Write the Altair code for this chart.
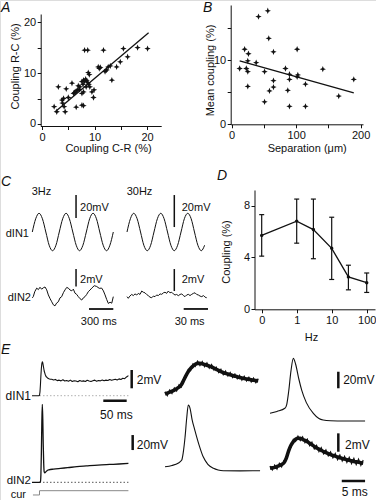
import altair as alt
import pandas as pd

W, H = 376, 500
FONT = "Liberation Sans"
INK = "#111111"

# ---------------- Panel A: coupling R-C vs C-R ----------------
a_cr = [2.3, 2.8, 3.1, 3.8, 4.1, 3.9, 4.2, 4.4, 4.6, 5.7, 5.0, 6.0, 6.2, 6.5, 6.8, 7.1, 6.5, 7.2,
        7.6, 7.8, 7.9, 8.1, 8.3, 8.5, 8.7, 8.9, 9.1, 8.4, 7.9, 7.6, 7.6, 7.9, 8.1, 8.7, 8.8, 9.0,
        9.5, 9.8, 9.9, 10.7, 10.9, 11.1, 11.7, 12.0, 12.3, 12.6, 13.0, 13.3, 14.2, 14.9, 15.5,
        16.3, 18.2, 20.1, 6.9]
a_rc = [3.4, 2.4, 7.3, 4.7, 5.0, 4.1, 3.4, 2.4, 6.9, 8.0, 5.2, 6.0, 6.2, 6.5, 6.7, 6.8, 3.3, 7.3,
        8.3, 7.8, 8.6, 8.4, 8.8, 8.5, 8.1, 7.8, 7.3, 7.3, 6.3, 6.0, 3.7, 3.6, 14.5, 14.5, 10.1, 9.7,
        6.3, 5.2, 6.7, 11.2, 10.9, 11.1, 14.5, 10.3, 10.6, 11.2, 11.4, 8.6, 11.2, 12.2, 14.8,
        13.2, 15.0, 14.8, 7.5]
a_fit_cr = [2.5, 20.3]
a_fit_rc = [2.4, 17.9]

# ---------------- Panel B: mean coupling vs separation ----------------
b_sep = [12.4, 20.1, 22.7, 25.0, 26.0, 25.0, 25.0, 38.0, 41.6, 51.0, 51.0, 56.0, 57.5, 58.6, 64.8,
         64.8, 64.8, 83.4, 87.0, 89.6, 89.6, 89.6, 101.5, 101.5, 102.6, 114.4, 114.4, 141.3,
         166.0, 189.3]
b_cpl = [8.7, 11.7, 8.7, 8.2, 11.0, 9.9, 5.9, 9.6, 16.8, 8.2, 3.5, 17.7, 13.4, 5.2, 11.3, 6.8,
         5.8, 8.7, 5.3, 7.8, 7.0, 2.8, 11.7, 7.4, 7.7, 6.25, 2.8, 8.6, 4.4, 7.0]
b_fit_sep = [12.4, 189.3]
b_fit_cpl = [9.9, 4.9]

# ---------------- Panel C: sine injection traces ----------------
c3_t = [0, 42, 83, 125, 167, 208, 250, 292, 333, 375, 417, 458, 500, 542, 583, 625, 667, 708,
        750, 792, 833, 875, 917, 958, 1000]
c3_in1 = [0, 11.5, 16.3, 11.5, 0, -11.5, -16.3, -11.5, 0, 11.5, 16.3, 11.5, 0, -11.5, -16.3,
          -11.5, 0, 11.5, 16.3, 11.5, 0, -11.5, -16.3, -11.5, 0]
c3_in2_t = [0, 12, 30, 54, 75, 95, 115, 136, 157, 178, 198, 220, 240, 260, 280, 300, 321, 342,
            363, 384, 404, 425, 445, 466, 487, 507, 527, 548, 568, 590, 610, 630, 651, 672, 692,
            713, 734, 765, 795, 826, 857, 878, 898, 919, 939, 960, 981, 1000]
c3_in2 = [-0.1, 0.04, 0.6, 1.02, 0.85, 1.12, 0.9, 1.06, 1.15, 0.82, 0.24, -0.2, -0.55, -0.9,
          -1.02, -0.7, -0.55, -0.1, 0.04, 0.5, 0.82, 1.1, 1.02, 0.8, 0.71, 0.9, 0.44, 0.3, 0.04,
          -0.2, -0.35, -0.1, 0.04, 0.3, 0.62, 0.8, 1.02, 1.3, 1.21, 1.0, 1.02, 0.7, 0.24, -0.3,
          -0.74, -0.6, -0.71, 0.04]
c30_t = [0, 4.2, 8.3, 12.5, 16.7, 20.8, 25, 29.2, 33.3, 37.5, 41.7, 45.8, 50, 54.2, 58.3, 62.5,
         66.7, 70.8, 75, 79.2, 83.3, 87.5, 91.7, 95.8]
c30_in1 = [0, 8.3, 11.7, 8.3, 0, -8.3, -11.7, -8.3, 0, 8.3, 11.7, 8.3, 0, -8.3, -11.7, -8.3, 0,
           8.3, 11.7, 8.3, 0, -8.3, -11.7, -8.3]
c30_in2_t = [0, 1.6, 3.5, 5.8, 7.8, 9.9, 12, 14, 16, 18.2, 20.2, 22.2, 24.2, 26.3, 28.4, 30.5,
             32.5, 34.6, 36.6, 38.7, 40.8, 42.9, 45, 46.9, 49, 51, 53, 55.2, 57.2, 59.3, 61.3,
             63.4, 65.5, 67.6, 69.6, 71.6, 73.6, 75.7, 77.8, 79.9, 82, 84, 86, 88.1, 90.2, 92.3,
             94.4, 96.4, 98.4]
c30_in2 = [-0.15, -0.3, -0.1, 0.05, -0.05, 0.1, 0.0, 0.15, 0.05, 0.36, 0.25, 0.2, 0.05, -0.06,
           -0.2, -0.25, -0.1, -0.15, 0.0, -0.05, 0.1, 0.06, 0.2, 0.25, 0.15, 0.36, 0.2, 0.25, 0.1,
           0.0, 0.05, -0.06, 0.05, 0.1, -0.05, -0.15, 0.0, 0.06, -0.05, 0.06, 0.15, 0.2, 0.05,
           0.0, -0.1, -0.15, -0.05, -0.2, -0.25]

# ---------------- Panel D: coupling vs frequency ----------------
d_hz = [0, 1, 3, 10, 30, 100]
d_mean = [5.7, 6.8, 6.15, 4.7, 2.5, 2.05]
d_lo = [4.1, 5.1, 3.9, 2.3, 1.5, 1.3]
d_hi = [7.3, 8.5, 8.5, 7.1, 3.4, 2.8]

# ---------------- Panel E: spike coupling ----------------
e_in1_t = [-16, -1, 0, 1, 2, 3, 4, 5, 6, 7, 8, 9, 10, 12, 14, 16, 18, 20, 23] + list(range(26, 187, 4)) + [190]
e_in1 = [0, 0, 0.05, 0.4, 1.2, 2.2, 3.0, 3.5, 3.7, 3.6, 3.3, 3.0, 2.7, 2.35, 2.1, 2.0, 1.9, 1.85, 1.8,
         1.80, 1.72, 1.78, 1.65, 1.70, 1.62, 1.74, 1.60, 1.66, 1.58, 1.70, 1.55, 1.64, 1.60, 1.52,
         1.66, 1.58, 1.62, 1.55, 1.68, 1.60, 1.56, 1.64, 1.70, 1.58, 1.66, 1.62, 1.72, 1.64, 1.70,
         1.66, 1.76, 1.68, 1.74, 1.80, 1.72, 1.84, 1.78, 1.90, 1.86, 2.05, 2.2]
e_in2_t = [-16, 0, 2, 3, 4, 5, 6, 7, 8, 9, 10, 11.5, 13, 16, 20, 30, 45, 60, 80, 100, 125, 150, 170, 190]
e_in2 = [0, 0, 1, 10, 40, 80, 104, 85, 50, 25, 14, 12.5, 13.5, 15.5, 16.6, 17.6, 18.6, 19.5, 20.8,
         21.8, 23, 23.8, 24.4, 25.2]
e_cur_t = [-14, 0, 0, 190]
e_cur = [-16.9, -16.9, -11.2, -11.2]

# expanded traces (5 ms scale); thick noisy sweeps = mean curve + one noisy sweep
em_t = [i * 0.5 for i in range(41)]
em_in1_mean = [0, 0.1, 0.2, 0.3, 0.42, 0.58, 0.75, 1.0, 1.5, 2.0, 2.45, 2.8, 3.05, 3.25, 3.35, 3.35,
               3.3, 3.22, 3.15, 3.05, 2.95, 2.82, 2.7, 2.58, 2.45, 2.35, 2.25, 2.18, 2.1, 2.02, 1.95,
               1.88, 1.8, 1.75, 1.7, 1.65, 1.6, 1.55, 1.5, 1.46, 1.42]
em_in1_sweep = [0.25, -0.2, 0.45, 0.05, 0.68, 0.32, 1.0, 0.75, 1.75, 1.8, 2.7, 2.55, 3.3, 3.0, 3.6,
                3.1, 3.55, 2.98, 3.42, 2.8, 3.22, 2.6, 2.95, 2.35, 2.72, 2.1, 2.52, 1.95, 2.35, 1.8,
                2.2, 1.65, 2.05, 1.5, 1.95, 1.42, 1.85, 1.3, 1.75, 1.22, 1.68]
em_in2_t = [0, 1.5, 2.8, 3.6, 3.9, 4.3, 4.65, 5.0, 5.4, 5.8, 6.4, 7.3, 8.2, 9.2, 10.4, 11.4, 12.5, 16.1, 20.4]
em_in2 = [20.8, 22.5, 25.5, 29.7, 39, 60, 85, 103, 98, 84, 69.7, 50, 34, 24, 18.7, 16.5, 15.5, 15.3, 15.5]

er_in1_t = [0, 1.5, 3.2, 3.6, 4.0, 4.5, 5.0, 5.5, 6.2, 6.8, 7.8, 9.3, 10.5, 11.4, 13, 16, 20.4]
er_in1 = [9.2, 11.5, 15.2, 20, 35, 60, 75, 68, 50, 37, 22, 9.2, 3, 1.2, 0.3, 0, 0]
er_t = [i * 0.5 for i in range(41)]
er_in2_mean = [0, 0.05, 0.1, 0.2, 0.3, 0.42, 0.6, 1.1, 1.9, 2.5, 2.9, 3.15, 3.26, 3.25, 3.15, 3.03,
               2.9, 2.72, 2.55, 2.38, 2.2, 2.08, 1.95, 1.82, 1.7, 1.6, 1.5, 1.4, 1.32, 1.23, 1.15,
               1.08, 1.0, 0.94, 0.88, 0.82, 0.75, 0.7, 0.65, 0.6, 0.55]
er_in2_sweep = [0.25, -0.2, 0.35, -0.1, 0.55, 0.15, 0.85, 0.85, 2.15, 2.25, 3.15, 2.9, 3.5, 3.0, 3.42,
                2.78, 3.18, 2.45, 2.85, 2.1, 2.5, 1.8, 2.25, 1.55, 2.0, 1.35, 1.8, 1.12, 1.62, 0.92,
                1.45, 0.78, 1.32, 0.62, 1.2, 0.5, 1.1, 0.38, 1.0, 0.3, 0.9]

STAR = "M0,-1L0.28,-0.28L1,0L0.28,0.28L0,1L-0.28,0.28L-1,0L-0.28,-0.28Z"


def S(domain, rng, typ="linear"):
    return alt.Scale(type=typ, domain=domain, range=rng, nice=False, zero=False)


def axis(orient, offset, values, title, tx, ty, label_expr=None, fmt=None):
    kw = dict(orient=orient, offset=offset, values=values, title=title, titleX=tx, titleY=ty,
              titleAlign="center", titleBaseline="middle",
              titleAngle=0 if orient == "bottom" else 270, grid=False,
              domainColor=INK, tickColor=INK, labelColor=INK, titleColor=INK,
              labelFont=FONT, titleFont=FONT, labelFontSize=11, titleFontSize=11,
              titleFontWeight="normal", tickSize=3.5, labelPadding=1.5, labelFlush=False,
              labelOverlap=False, domainWidth=1, tickWidth=1)
    if label_expr:
        kw["labelExpr"] = label_expr
    if fmt:
        kw["format"] = fmt
    return alt.Axis(**kw)


def tr(t, v):
    return pd.DataFrame({"t": t, "v": v, "i": list(range(len(t)))})


def line(t, v, xs, ys, color=INK, sw=1.0, dash=None, interp="linear", join="round"):
    kw = dict(color=color, strokeWidth=sw, interpolate=interp, strokeJoin=join)
    if dash:
        kw["strokeDash"] = dash
    return alt.Chart(tr(t, v)).mark_line(**kw).encode(
        x=alt.X("t:Q", scale=xs, axis=None),
        y=alt.Y("v:Q", scale=ys, axis=None),
        order="i:Q")


def bar(t0, t1, v0, v1, xs, ys, sw=1.5):
    df = pd.DataFrame({"t": [t0], "t2": [t1], "v": [v0], "v2": [v1]})
    return alt.Chart(df).mark_rule(color=INK, strokeWidth=sw).encode(
        x=alt.X("t:Q", scale=xs, axis=None), x2="t2:Q",
        y=alt.Y("v:Q", scale=ys, axis=None), y2="v2:Q")


def label(t, v, text, xs, ys, align="left", size=11):
    df = pd.DataFrame({"t": [t], "v": [v], "s": [text]})
    return alt.Chart(df).mark_text(align=align, baseline="middle", fontSize=size, font=FONT,
                                   color=INK).encode(
        x=alt.X("t:Q", scale=xs, axis=None), y=alt.Y("v:Q", scale=ys, axis=None), text="s:N")


def letter(s, x, y):
    return alt.Chart(pd.DataFrame({"s": [s]})).mark_text(
        align="left", baseline="alphabetic", fontSize=14, fontStyle="italic", font=FONT,
        color=INK).encode(x=alt.value(x), y=alt.value(y), text="s:N")


layers = []

# ---- A ----
xA = S([-0.3, 22.7], [40.5, 161.2])
yA = S([-0.4, 21.6], [126, 14])
dfA = pd.DataFrame({"cr": a_cr, "rc": a_rc})
layers.append(alt.Chart(dfA).mark_point(shape=STAR, filled=True, size=40, color=INK, opacity=1).encode(
    x=alt.X("cr:Q", scale=xA, axis=axis("bottom", 126 - H, [0, 5, 10, 15, 20], "Coupling C-R (%)", 108, 22.5,
                                         "datum.value % 10 == 0 ? datum.label : ''")),
    y=alt.Y("rc:Q", scale=yA, axis=axis("left", -40.7, [0, 5, 10, 15, 20], "Coupling R-C (%)", 15 - 40.7, 66,
                                         "datum.value % 10 == 0 ? datum.label : ''"))))
layers.append(alt.Chart(pd.DataFrame({"cr": a_fit_cr, "rc": a_fit_rc})).mark_line(color=INK, strokeWidth=1.3).encode(
    x=alt.X("cr:Q", scale=xA, axis=None), y=alt.Y("rc:Q", scale=yA, axis=None)))

# ---- B ----
xB = S([-1.5, 203.6], [230.7, 363])
yB = S([0, 18.6], [124.3, 5])
dfB = pd.DataFrame({"sep": b_sep, "cpl": b_cpl})
layers.append(alt.Chart(dfB).mark_point(shape=STAR, filled=True, size=40, color=INK, opacity=1).encode(
    x=alt.X("sep:Q", scale=xB, axis=axis("bottom", 124.3 - H, [0, 50, 100, 150, 200], "Separation (μm)", 306.7, 24.5,
                                          "datum.value % 100 == 0 ? datum.label : ''")),
    y=alt.Y("cpl:Q", scale=yB, axis=axis("left", -230.7, [0, 5, 10, 15], "Mean coupling (%)", 210 - 230.7, 70,
                                          "datum.value % 10 == 0 ? datum.label : ''"))))
layers.append(alt.Chart(pd.DataFrame({"sep": b_fit_sep, "cpl": b_fit_cpl})).mark_line(color=INK, strokeWidth=1.3).encode(
    x=alt.X("sep:Q", scale=xB, axis=None), y=alt.Y("cpl:Q", scale=yB, axis=None)))

# ---- C ----
x3 = S([0, 1000], [32.3, 113.3])
x30 = S([0, 100], [127, 208])
y3a = S([-20, 40], [255, 186])
y30a = S([-20, 30], [264, 184])
y3b = S([-4, 4], [331.8, 262.2])
y30b = S([-4, 4], [339, 251])
layers += [
    line(c3_t, c3_in1, x3, y3a, sw=1.0, interp="monotone"),
    line(c30_t, c30_in1, x30, y30a, sw=1.0, interp="monotone"),
    line(c3_in2_t, c3_in2, x3, y3b, sw=1.0),
    line(c30_in2_t, c30_in2, x30, y30b, sw=1.0),
    bar(540, 540, 12.2, 32.2, x3, y3a),
    bar(58.4, 58.4, 3.1, 23.1, x30, y30a),
    bar(540, 540, 1.2, 3.22, x3, y3b),
    bar(58.4, 58.4, 0.36, 2.36, x30, y30b),
    bar(700, 1000, -1.38, -1.38, x3, y3b, sw=1.8),
    bar(70, 100, -1.27, -1.27, x30, y30b, sw=1.8),
    label(-7.4, 34.8, "3Hz", x3, y3a),
    label(-0.4, 25, "30Hz", x30, y30a),
    label(589, 21.1, "20mV", x3, y3a),
    label(67.6, 14.8, "20mV", x30, y30a),
    label(-41, -2, "dIN1", x3, y3a, align="right"),
    label(589, 1.95, "2mV", x3, y3b),
    label(67.6, 1.36, "2mV", x30, y30b),
    label(-16, -0.15, "dIN2", x3, y3b, align="right"),
    label(821, -2.84, "300 ms", x3, y3b, align="center"),
    label(77.3, -2.43, "30 ms", x30, y30b, align="center"),
]

# ---- D ----
xD = S([0.0623, 172.6], [254.5, 375], "log")
yD = S([0, 9.2], [309.3, 190])
dfD = pd.DataFrame({"hz": d_hz, "mean": d_mean, "lo": d_lo, "hi": d_hi})
baseD = alt.Chart(dfD).transform_calculate(xp="datum.hz == 0 ? 0.1 : datum.hz")
xDn = alt.X("xp:Q", scale=xD, axis=None)
layers += [
    baseD.mark_line(color=INK, strokeWidth=1.3).encode(
        x=alt.X("xp:Q", scale=xD, axis=axis("bottom", 309.3 - H, [0.1, 1, 10, 100], "Hz", 311, 27.7,
                                             "datum.value < 0.5 ? '0' : format(datum.value, 'd')")),
        y=alt.Y("mean:Q", scale=yD, axis=axis("left", -254.5, [0, 4, 8], "Coupling (%)", 226.7 - 254.5, 251.5))),
    baseD.mark_rule(color=INK, strokeWidth=1.2).encode(
        x=xDn, y=alt.Y("lo:Q", scale=yD, axis=None), y2="hi:Q"),
    baseD.mark_tick(orient="horizontal", color=INK, size=5, thickness=1.2, opacity=1).encode(
        x=xDn, y=alt.Y("hi:Q", scale=yD, axis=None)),
    baseD.mark_tick(orient="horizontal", color=INK, size=5, thickness=1.2, opacity=1).encode(
        x=xDn, y=alt.Y("lo:Q", scale=yD, axis=None)),
    baseD.mark_point(filled=True, size=12, color=INK, opacity=1).encode(
        x=xDn, y=alt.Y("mean:Q", scale=yD, axis=None)),
]

# ---- E ----
xEL = S([-40, 210], [20.78, 137.78])
yEL1 = S([-5, 5], [441.45, 349.95])
yEL2 = S([-30, 120], [504.8, 392.3])
xEM = S([0, 25], [165, 281.5])
yEM1 = S([-2, 5], [412.3, 348.25])
yEM2 = S([0, 120], [482.3, 392.3])
xER = S([0, 25], [270, 386.5])
yER1 = S([-10, 90], [429.35, 345.85])
yER2 = S([-4, 5], [505.1, 422.3])
layers += [
    line([0, 190], [0, 0], xEL, yEL1, color="#b0b0b0", sw=1, dash=[1.5, 2]),
    line([0, 190], [0, 0], xEL, yEL2, color="#555555", sw=1, dash=[1.5, 2]),
    line(e_cur_t, e_cur, xEL, yEL2, color="#888888", sw=1),
    line(e_in1_t, e_in1, xEL, yEL1, sw=1.1),
    line(e_in2_t, e_in2, xEL, yEL2, sw=1.3, interp="monotone"),
    bar(197, 197, 0.81, 2.81, xEL, yEL1, sw=2.5),
    bar(136.3, 186.3, -0.55, -0.55, xEL, yEL1, sw=2.5),
    bar(199.1, 199.1, 43, 63, xEL, yEL2, sw=2.5),
    label(-18.2, 0, "dIN1", xEL, yEL1, align="right", size=12),
    label(207.7, 1.72, "2mV", xEL, yEL1, size=12),
    label(164.1, -2.11, "50 ms", xEL, yEL1, align="center", size=12),
    label(-18.2, 1.2, "dIN2", xEL, yEL2, align="right", size=11.5),
    label(207.7, 49.7, "20mV", xEL, yEL2, size=12),
    label(-28.8, -16.5, "cur", xEL, yEL2, align="right", size=11),
    line(em_t, em_in1_mean, xEM, yEM1, sw=3.6, interp="monotone"),
    line(em_t, em_in1_sweep, xEM, yEM1, sw=1.1, join="miter"),
    line(em_in2_t, em_in2, xEM, yEM2, sw=1.1, interp="monotone"),
    line(er_in1_t, er_in1, xER, yER1, sw=1.1, interp="monotone"),
    line(er_t, er_in2_mean, xER, yER2, sw=3.6, interp="monotone"),
    line(er_t, er_in2_sweep, xER, yER2, sw=1.1, join="miter"),
    bar(14.66, 14.66, 39.2, 59.0, xER, yER1, sw=2.5),
    bar(14.66, 14.66, 1.8, 3.8, xER, yER2, sw=2.5),
    bar(15.4, 20.4, -1.38, -1.38, xER, yER2, sw=2.5),
    label(15.7, 49.1, "20mV", xER, yER1, size=12),
    label(16.1, 2.53, "2mV", xER, yER2, size=12),
    label(18.2, -2.54, "5 ms", xER, yER2, align="center", size=12),
]

# ---- panel letters ----
layers += [letter("A", 1, 12), letter("B", 203, 12), letter("C", 1, 186),
           letter("D", 217, 180), letter("E", 1, 354)]

chart = (
    alt.layer(*layers)
    .resolve_scale(x="independent", y="independent")
    .resolve_axis(x="independent", y="independent")
    .properties(width=W, height=H, padding=0, autosize=alt.AutoSizeParams(type="none"),
                background="white")
    .configure_view(stroke=None)
    .configure(font=FONT)
)

chart.save("out.html", embed_options={"renderer": "svg", "actions": False})
